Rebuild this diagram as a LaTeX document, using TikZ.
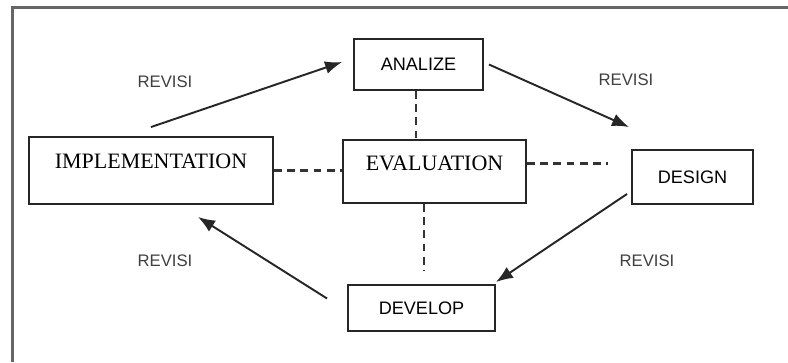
\documentclass[tikz,border=0pt]{standalone}
\usepackage{fontspec}
\setmainfont{Liberation Serif}
\newfontfamily\arialfont{Liberation Sans}
\usetikzlibrary{arrows.meta}
\tikzset{
	stagebox/.style={draw=black!85,line width=1.1pt,rectangle,inner sep=0pt,font=\arialfont\fontsize{10.3}{12}\selectfont},
	mainbox/.style={stagebox,font=\fontsize{12.5}{14}\selectfont},
	revarrow/.style={-{Latex[length=3.4mm,width=2.6mm]},draw=black!85,line width=1.1pt},
	evalline/.style={draw=black!80,line width=1.3pt,dash pattern=on 4.5pt off 3pt},
	revlabel/.style={font=\arialfont\fontsize{9.5}{11}\selectfont,text=black!75}
}
\begin{document}
\begin{tikzpicture}
	\useasboundingbox (0,0) rectangle (15.76,-7.24);
	% frame
	\draw[black!60,line width=1.6pt] (15.76,-0.15)--(0.25,-0.15)--(0.25,-7.24);
	% stages
	\node[stagebox,minimum width=2.58cm,minimum height=1.02cm] (analize) at (8.37,-1.29) {ANALIZE};
	\node[mainbox,minimum width=4.88cm,text height=0.62cm,text depth=0.72cm] (impl) at (3.02,-3.41) {IMPLEMENTATION};
	\node[mainbox,minimum width=3.66cm,text height=0.6cm,text depth=0.66cm] (eval) at (8.69,-3.43) {EVALUATION};
	\node[stagebox,minimum width=2.42cm,minimum height=1.08cm] (design) at (13.85,-3.54) {DESIGN};
	\node[stagebox,minimum width=2.94cm,minimum height=0.92cm] (develop) at (8.43,-6.16) {DEVELOP};
	% revisions
	\draw[revarrow] ([yshift=0.18cm]impl.north)--([xshift=-0.22cm,yshift=0.05cm]analize.west);
	\draw[revarrow] ([xshift=0.1cm]analize.east)--([xshift=-0.04cm,yshift=0.44cm]design.north west);
	\draw[revarrow] ([xshift=-0.08cm,yshift=0.22cm]design.south west)--([yshift=0.04cm]develop.north east);
	\draw[revarrow] ([xshift=-0.4cm,yshift=0.19cm]develop.west)--([xshift=0.94cm,yshift=-0.24cm]impl.south);
	\node[revlabel] (rev1) at (3.3,-1.64) {REVISI};
	\node[revlabel] (rev2) at (12.52,-1.6) {REVISI};
	\node[revlabel] (rev3) at (12.94,-5.22) {REVISI};
	\node[revlabel] (rev4) at (3.3,-5.22) {REVISI};
	% evaluation links
	\draw[evalline] (impl.east)--(impl.east -| eval.west);
	\draw[evalline] ([yshift=0.16cm]eval.east)--++(1.62,0);
	\draw[evalline] ([xshift=-0.05cm]analize.south)--([xshift=-0.05cm]analize.south |- eval.north);
	\draw[evalline] ([xshift=-0.21cm]eval.south)--++(0,-1.34);
\end{tikzpicture}
\end{document}
